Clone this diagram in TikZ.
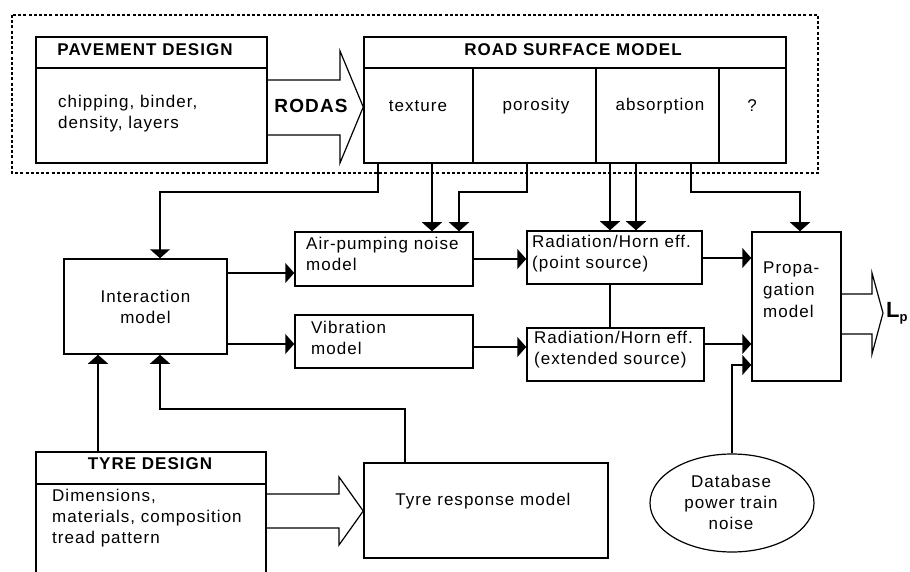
\documentclass[tikz,border=0pt]{standalone}
\usepackage{fontspec}
\setmainfont{Liberation Sans}[LetterSpace=6]
\usetikzlibrary{arrows.meta,shapes.geometric,calc}
\begin{document}
\begin{tikzpicture}[x=1pt,y=-1pt]
\tikzset{
 box/.style={draw,line width=1.5pt,inner sep=0pt},
 txt/.style={inner sep=0pt,font=\fontsize{17}{21}\selectfont,align=left},
 btxt/.style={inner sep=0pt,font=\fontsize{17}{21}\selectfont\bfseries},
 conn/.style={line width=1.5pt},
 arr/.style={conn,-{Triangle[width=20pt,length=9pt]}},
 blk/.style={line width=1.2pt,line join=miter}
}
\fill[white] (0,0) rectangle (910,572);
\useasboundingbox (0,0) rectangle (910,572);

% dotted frame
\draw[line width=2.8pt,dash pattern=on 3pt off 2.2pt] (12,15) rectangle (818,173);

% boxes
\node[box,minimum width=231pt,minimum height=126pt] (pav) at (151.5,100) {};
\node[box,minimum width=422pt,minimum height=126pt] (road) at (575,100) {};
\node[box,minimum width=163pt,minimum height=95pt] (inter) at (145.5,306.5) {};
\node[box,minimum width=178pt,minimum height=54pt] (air) at (384,259) {};
\node[box,minimum width=178pt,minimum height=53pt] (vib) at (384,341.5) {};
\node[box,minimum width=175pt,minimum height=53pt] (radp) at (614.5,257.5) {};
\node[box,minimum width=177pt,minimum height=53pt] (rade) at (615.5,354.5) {};
\node[box,minimum width=89pt,minimum height=149pt] (prop) at (796.5,306.5) {};
\node[box,minimum width=230pt,minimum height=150pt] (tyre) at (151,527) {};
\node[box,minimum width=244pt,minimum height=95pt] (resp) at (486,510.5) {};
\node[ellipse,draw,line width=1.2pt,minimum width=164pt,minimum height=98pt,inner sep=0pt] (db) at (732,503) {};

% header dividers and columns
\draw[conn] (pav.west |- 0,68) -- (pav.east |- 0,68);
\draw[conn] (road.west |- 0,68) -- (road.east |- 0,68);
\draw[conn] (tyre.west |- 0,484) -- (tyre.east |- 0,484);
\draw[conn] (473,68) -- (road.south -| 473,0);
\draw[conn] (596,68) -- (road.south -| 596,0);
\draw[conn] (719,68) -- (road.south -| 719,0);

% texts
\node[btxt] (pavh) at (145,50) {PAVEMENT DESIGN};
\node[txt,anchor=west] (pavb) at (58,114) {chipping, binder,\\density, layers};
\node[btxt] (roadh) at (573,50) {ROAD SURFACE MODEL};
\node[txt] (tex) at (418,106) {texture};
\node[txt] (por) at (536,106) {porosity};
\node[txt] (abs) at (660,106) {absorption};
\node[txt] (unk) at (752,106) {?};
\node[btxt,font=\fontsize{19}{21}\selectfont\bfseries] (rodas) at (311,106) {RODAS};
\node[txt,align=center] (intert) at (145.5,307) {Interaction\\model};
\node[txt,anchor=west] (airt) at (306,254) {Air-pumping noise\\model};
\node[txt,anchor=west] (vibt) at (311,338) {Vibration\\model};
\node[txt,anchor=west] (radpt) at (532,254) {Radiation/Horn eff.\\(point source)};
\node[txt,anchor=west] (radet) at (534,350) {Radiation/Horn eff.\\(extended source)};
\node[txt,anchor=west,font=\fontsize{17}{22}\selectfont] (propt) at (763,290) {Propa-\\gation\\model};
\node[btxt] (tyreh) at (150,464) {TYRE DESIGN};
\node[txt,anchor=west] (tyreb) at (52,518) {Dimensions,\\materials, composition\\tread pattern};
\node[txt] (respt) at (483,501) {Tyre response model};
\node[txt,align=center] (dbt) at (731,502) {Database\\power train\\noise};
\node[inner sep=0pt,anchor=west,font=\fontsize{22}{22}\selectfont\bfseries] (lp) at (886,313) {L\raisebox{-4pt}{\fontsize{13}{13}\selectfont p}};

% block arrows
\draw[blk] (pav.east |- 0,80) -- (340,80) -- (340,51) -- (road.west |- 0,107) -- (340,163) -- (340,135) -- (pav.east |- 0,135);
\draw[blk] (tyre.east |- 0,494) -- (339,494) -- (339,477) -- (resp.west |- 0,511) -- (339,545) -- (339,528) -- (tyre.east |- 0,528);
\draw[blk] (prop.east |- 0,294) -- (872,294) -- (872,273) -- (883,313) -- (872,354) -- (872,334) -- (prop.east |- 0,334);

% connectors
\draw[arr] (road.south -| 378,0) |- (160,192) -- (inter.north -| 160,0);
\draw[arr] (road.south -| 432,0) -- (air.north -| 432,0);
\draw[arr] (road.south -| 527,0) |- (459,192) -- (air.north -| 459,0);
\draw[arr] (road.south -| 610,0) -- (radp.north -| 610,0);
\draw[arr] (road.south -| 636,0) -- (radp.north -| 636,0);
\draw[arr] (road.south -| 691,0) |- (800,192) -- (prop.north -| 800,0);
\draw[arr] (inter.east |- 0,273) -- (air.west |- 0,273);
\draw[arr] (inter.east |- 0,344) -- (vib.west |- 0,344);
\draw[arr] (air.east |- 0,259) -- (radp.west |- 0,259);
\draw[arr] (vib.east |- 0,347) -- (rade.west |- 0,347);
\draw[arr] (radp.east |- 0,258) -- (prop.west |- 0,258);
\draw[arr] (rade.east |- 0,344) -- (prop.west |- 0,344);
\draw[conn] (radp.south -| 610,0) -- (rade.north -| 610,0);
\draw[arr] (db.north) |- (prop.west |- 0,365);
\draw[arr] (tyre.north -| 98,0) -- (inter.south -| 98,0);
\draw[arr] (resp.north -| 405,0) |- (160,409) -- (inter.south -| 160,0);
\end{tikzpicture}
\end{document}
